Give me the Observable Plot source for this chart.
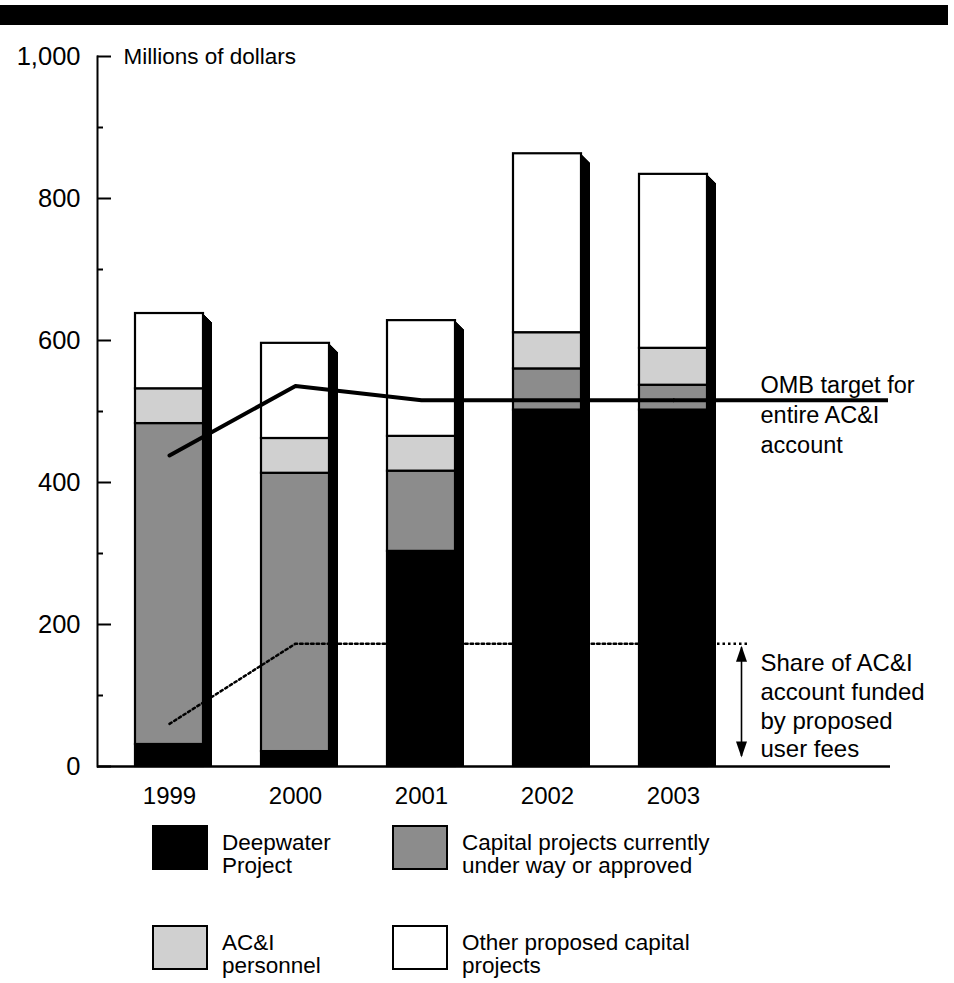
<!DOCTYPE html>
<html><head><meta charset="utf-8">
<script src="https://cdn.jsdelivr.net/npm/d3@7"></script>
<script src="https://cdn.jsdelivr.net/npm/@observablehq/plot@0.6"></script>
<style>
body{margin:0;background:#fff;font-family:"Liberation Sans",Arial,Helvetica,sans-serif;color:#000;}
#wrap{position:relative;width:954px;height:983px;overflow:hidden;}
#chart{position:absolute;left:0;top:0;}
#topbar{position:absolute;left:0;top:5px;width:948px;height:20px;background:#000;}
#legend{position:absolute;left:0;top:815px;width:954px;height:168px;}
.item{position:absolute;display:flex;align-items:flex-start;}
.sw{width:56px;height:45px;border:2px solid #000;box-sizing:border-box;margin-right:14px;margin-top:-6px;flex:none;}
.lab{font-size:22.5px;line-height:23px;white-space:pre;}
</style></head><body>
<div id="wrap"><div id="chart"></div><div id="topbar"></div><div id="legend"></div></div>
<script>
const years = ["1999","2000","2001","2002","2003"];
const categories = ["Deepwater Project","Capital projects currently under way or approved","AC&I personnel","Other proposed capital projects"];
const legendLabels = ["Deepwater\nProject","Capital projects currently\nunder way or approved","AC&I\npersonnel","Other proposed capital\nprojects"];
const deepwater = [31,21,303,502,502];
const capital = [452,392,113,58,35];
const personnel = [49,49,49,51,52];
const other = [106,134,163,252,245];
const ombTarget = [438,536,516,516,516];
const userFeeShare = [60,173,173,173,173];
const yTicks = [0,200,400,600,800,1000];
const yMinorTicks = [100,300,500,700,900];
const ombLabel = "OMB target for\nentire AC&I\naccount";
const feeLabel = "Share of AC&I\naccount funded\nby proposed\nuser fees";
const axisLabel = "Millions of dollars";
const fills = ["#000000","#8c8c8c","#d0d0d0","#ffffff"];

const series = [deepwater, capital, personnel, other];
const stacked = years.flatMap((year,i) => categories.map((category,c) => ({year, category, value: series[c][i]})));
const totals = years.map((year,i) => ({year, total: series.reduce((s,a)=>s+a[i],0)}));
const omb = years.map((year,i) => ({year, value: ombTarget[i]}));
const fee = years.map((year,i) => ({year, value: userFeeShare[i]}));
const last = years[years.length-1];
const ombLast = ombTarget[ombTarget.length-1];
const feeLast = userFeeShare[userFeeShare.length-1];

const font = '"Liberation Sans",Arial,Helvetica,sans-serif';
const shadowMarks = d3.range(1,10).map(k => Plot.barY(totals, {x:"year", y:"total", fill:"#000", dx:k, dy:k, insetBottom:k}));
const arrowHead = (dir) => ({draw(ctx){ const w=5.5,h=16; ctx.moveTo(0,-dir*h/2); ctx.lineTo(w,dir*h/2); ctx.lineTo(-w,dir*h/2); ctx.closePath(); }});

const chart = Plot.plot({
  width: 954, height: 815,
  marginLeft: 97, marginRight: 64, marginTop: 56, marginBottom: 49,
  style: {fontFamily: font, fontSize: "24px", background: "transparent", color: "#000"},
  x: {domain: years, paddingInner: 0.4625, paddingOuter: 0.866, align: 0.1735, axis: null},
  y: {domain: [0,1000], axis: null},
  color: {domain: categories, range: fills},
  marks: [
    ...shadowMarks,
    Plot.barY(stacked, {x:"year", y:"value", fill:"category", stroke:"#000", strokeWidth:2.2, order: categories}),
    Plot.line(omb, {x:"year", y:"value", stroke:"#000", strokeWidth:4}),
    Plot.tickY([{year:last, value:ombLast}], {x:"year", y:"value", stroke:"#000", strokeWidth:4, insetLeft:34, insetRight:-181}),
    Plot.line(fee, {x:"year", y:"value", stroke:"#000", strokeWidth:2.5, strokeDasharray:"2.5,3"}),
    Plot.tickY([{year:last, value:feeLast}], {x:"year", y:"value", stroke:"#000", strokeWidth:2.5, strokeDasharray:"2.5,3", insetLeft:34, insetRight:-41}),
    Plot.ruleX([{year:last}], {x:"year", y1:feeLast, y2:0, dx:68, stroke:"#000", strokeWidth:1.6, insetTop:4, insetBottom:10}),
    Plot.dot([{year:last, value:feeLast}], {x:"year", y:"value", dx:68, dy:10, symbol: arrowHead(1), r:5, fill:"#000", stroke:"none"}),
    Plot.dot([{year:last, value:0}], {x:"year", y:"value", dx:68, dy:-17, symbol: arrowHead(-1), r:5, fill:"#000", stroke:"none"}),
    Plot.text([{year:last, value:ombLast, t:ombLabel}], {x:"year", y:"value", text:"t", dx:87, dy:13, textAnchor:"start", lineAnchor:"middle", lineHeight:1.27, fontSize:23.5}),
    Plot.text([{year:last, value:feeLast/2, t:feeLabel}], {x:"year", y:"value", text:"t", dx:87, textAnchor:"start", lineAnchor:"middle", lineHeight:1.2, fontSize:24}),
    Plot.text([axisLabel], {frameAnchor:"top-left", dx:26, textAnchor:"start", lineAnchor:"middle", fontSize:22.5}),
    Plot.ruleY([0], {stroke:"#000", strokeWidth:2.5}),
    Plot.frame({anchor:"left", stroke:"#000", strokeWidth:2}),
    Plot.axisY({ticks: yTicks, tickFormat: d3.format(","), tickSize: -14, tickPadding: 31, strokeWidth: 2, fontSize: 25.5, label: null}),
    Plot.axisY({ticks: yMinorTicks, tickFormat: () => "", tickSize: -6, tickPadding: 0, strokeWidth: 2, label: null}),
    Plot.axisX({tickSize: 0, tickPadding: 20, fontSize: 24, label: null})
  ]
});
document.getElementById("chart").appendChild(chart);

const legend = document.getElementById("legend");
const pos = [[152,16],[392,16],[152,116],[392,116]];
categories.forEach((c,i) => {
  const it = document.createElement("div");
  it.className = "item";
  it.style.left = pos[i][0]+"px"; it.style.top = pos[i][1]+"px";
  const sw = document.createElement("div"); sw.className = "sw"; sw.style.background = fills[i];
  const lab = document.createElement("div"); lab.className = "lab"; lab.textContent = legendLabels[i];
  it.appendChild(sw); it.appendChild(lab);
  legend.appendChild(it);
});
</script>
</body></html>
